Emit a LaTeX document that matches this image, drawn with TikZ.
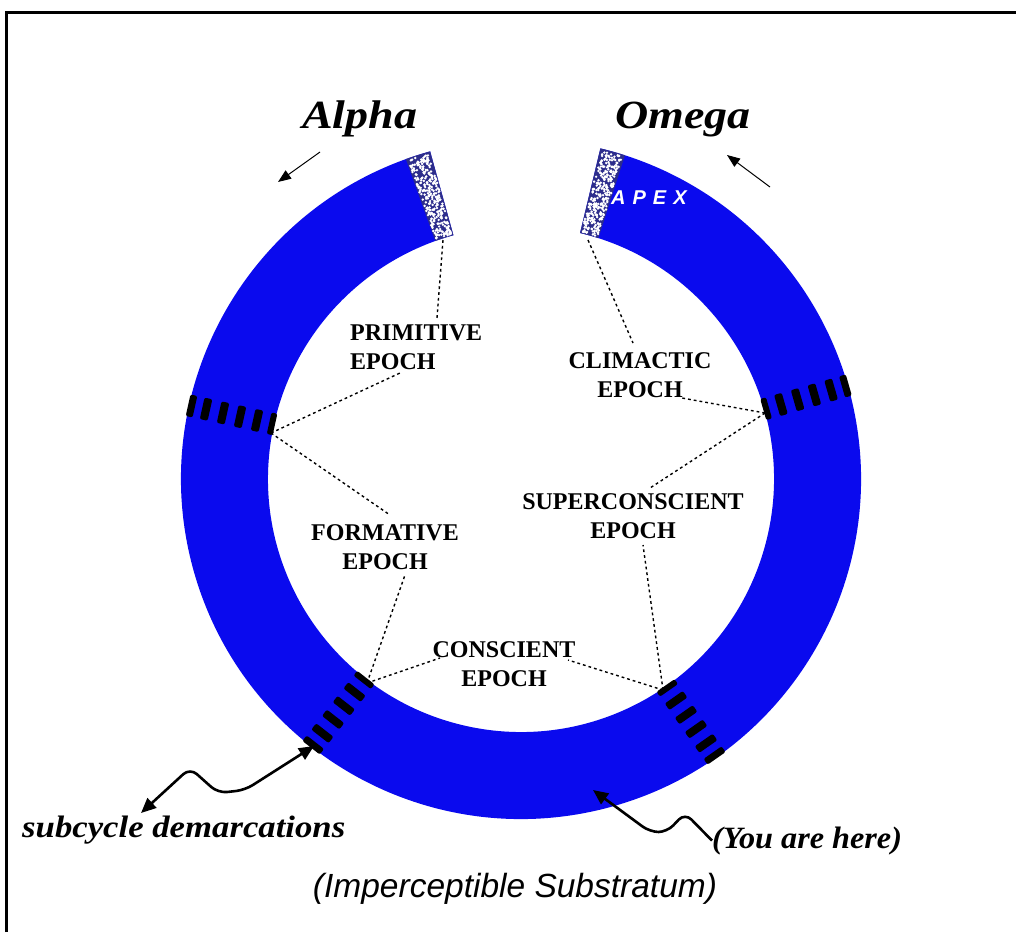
\documentclass[tikz,border=0pt]{standalone}
\usepackage{fontspec}
\setmainfont{Liberation Serif}
\setsansfont{Liberation Sans}
\usetikzlibrary{arrows.meta,calc}
\definecolor{ringblue}{RGB}{10,10,238}
\definecolor{stipblue}{RGB}{45,45,140}
\begin{document}
\begin{tikzpicture}[x=1pt,y=1pt,
 epoch/.style={font=\fontsize{24}{29}\selectfont\bfseries, align=center, inner sep=0pt},
 greek/.style={font=\fontsize{40}{40}\selectfont\bfseries\itshape, inner sep=0pt, anchor=base west},
 note/.style={font=\fontsize{31}{31}\selectfont\bfseries\itshape, inner sep=0pt, anchor=base west},
 dotline/.style={line width=1.4pt, dash pattern=on 2.8pt off 3pt},
 thinarrow/.style={line width=1pt, -{Triangle[length=13pt,width=10pt]}},
 wavy/.style={line width=2.6pt, rounded corners=9pt},
 bar/.style={fill=black, rounded corners=2pt},
]
\useasboundingbox (0,0) rectangle (1016,-932);
\fill[white] (0,0) rectangle (1016,-932);
\draw[line width=3pt] (6,-932) -- (6,-12) -- (1016,-12);

% ring
\coordinate (C) at (521,-479);
\fill[ringblue] ($(C)+(105.5:340)$) arc[start angle=105.5,end angle=436.5,radius=340]
  -- ($(C)+(436.5:253)$) arc[start angle=436.5,end angle=105.5,radius=253] -- cycle;
\foreach \a/\b in {105.5/109.8, 72.2/76.5} {
 \fill[stipblue] ($(C)+(\a:340)$) arc[start angle=\a,end angle=\b,radius=340]
   -- ($(C)+(\b:253)$) arc[start angle=\b,end angle=\a,radius=253] -- cycle;
}
\pgfmathsetseed{4242}
\foreach \i in {1,...,300} {
 \pgfmathsetmacro\ang{105.8+3.7*rnd}
 \pgfmathsetmacro\rad{254.5+84*rnd}
 \fill[white] ($(C)+(\ang:\rad)$) circle[radius=1.35];
 \pgfmathsetmacro\angb{72.5+3.7*rnd}
 \pgfmathsetmacro\radb{254.5+84*rnd}
 \fill[white] ($(C)+(\angb:\radb)$) circle[radius=1.35];
}

% subcycle demarcations
\foreach \t in {167.5,232,305,376} {
 \foreach \r/\s in {252/258, 266.4/274.4, 283.8/291.8, 301.2/309.2, 318.6/326.6, 334/341} {
   \fill[bar, shift={(C)}, rotate=\t] (\r,-11) rectangle (\s,11);
 }
}

% APEX
\node[font=\fontsize{20}{20}\selectfont\sffamily\bfseries\itshape, text=white, inner sep=0pt, anchor=base west] (apex) at (611,-204) {A\hspace{7pt}P\hspace{7pt}E\hspace{7pt}X};

% labels
\node[epoch, align=left, anchor=west] (prim) at (350,-347) {PRIMITIVE\\EPOCH};
\node[epoch] (clim) at (640,-375) {CLIMACTIC\\EPOCH};
\node[epoch] (super) at (633,-516) {SUPERCONSCIENT\\EPOCH};
\node[epoch] (form) at (385,-547) {FORMATIVE\\EPOCH};
\node[epoch] (consc) at (504,-664) {CONSCIENT\\EPOCH};

% anchor points on the ring
\coordinate (eL) at (443,-240);
\coordinate (eR) at (588,-240);
\coordinate (dL) at (271,-433);
\coordinate (dBL) at (367,-683);
\coordinate (dBR) at (663,-690);
\coordinate (dR) at (765,-413);
% anchor points at the labels
\coordinate (p1) at (437,-318);
\coordinate (p2) at (400,-373);
\coordinate (f1) at (390,-515);
\coordinate (f2) at (405,-575);
\coordinate (c1) at (440,-658);
\coordinate (c2) at (568,-660);
\coordinate (s1) at (643,-545);
\coordinate (s2) at (650,-488);
\coordinate (k1) at (682,-398);
\coordinate (k2) at (633,-343);

\draw[dotline] (eL) -- (p1);
\draw[dotline] (dL) -- (p2);
\draw[dotline] (dL) -- (f1);
\draw[dotline] (dBL) -- (f2);
\draw[dotline] (dBL) -- (c1);
\draw[dotline] (dBR) -- (c2);
\draw[dotline] (dBR) -- (s1);
\draw[dotline] (dR) -- (s2);
\draw[dotline] (dR) -- (k1);
\draw[dotline] (eR) -- (k2);

% Alpha / Omega
\node[greek] (alpha) at (302,-128) {\scalebox{1.15}[1]{Alpha}};
\node[greek] (omega) at (615,-128) {\scalebox{1.15}[1]{Omega}};
\coordinate (aT) at (320,-152);
\coordinate (aH) at (278,-182);
\coordinate (oT) at (770,-187);
\coordinate (oH) at (727,-155);
\draw[thinarrow] (aT) -- (aH);
\draw[thinarrow] (oT) -- (oH);

% notes
\node[note] (subc) at (22,-837) {\scalebox{1.12}[1]{subcycle demarcations}};
\node[note] (you) at (712,-848) {\scalebox{1.04}[1]{(You are here)}};
\node[font=\fontsize{33.5}{33.5}\selectfont\sffamily\itshape, inner sep=0pt, anchor=base] (sub) at (515,-897) {(Imperceptible Substratum)};

\coordinate (sA) at (141,-813);
\coordinate (sB) at (314,-746);
\draw[wavy, {Triangle[length=15pt,width=13pt]}-{Triangle[length=15pt,width=13pt]}]
  (sA) -- (190,-768) -- (218,-793) -- (245,-790) -- (sB);
\coordinate (yT) at (593,-790);
\draw[wavy, -{Triangle[length=15pt,width=13pt]}]
  (you.west) -- (685,-813) -- (667,-832) -- (650,-832) -- (yT);
\end{tikzpicture}
\end{document}
